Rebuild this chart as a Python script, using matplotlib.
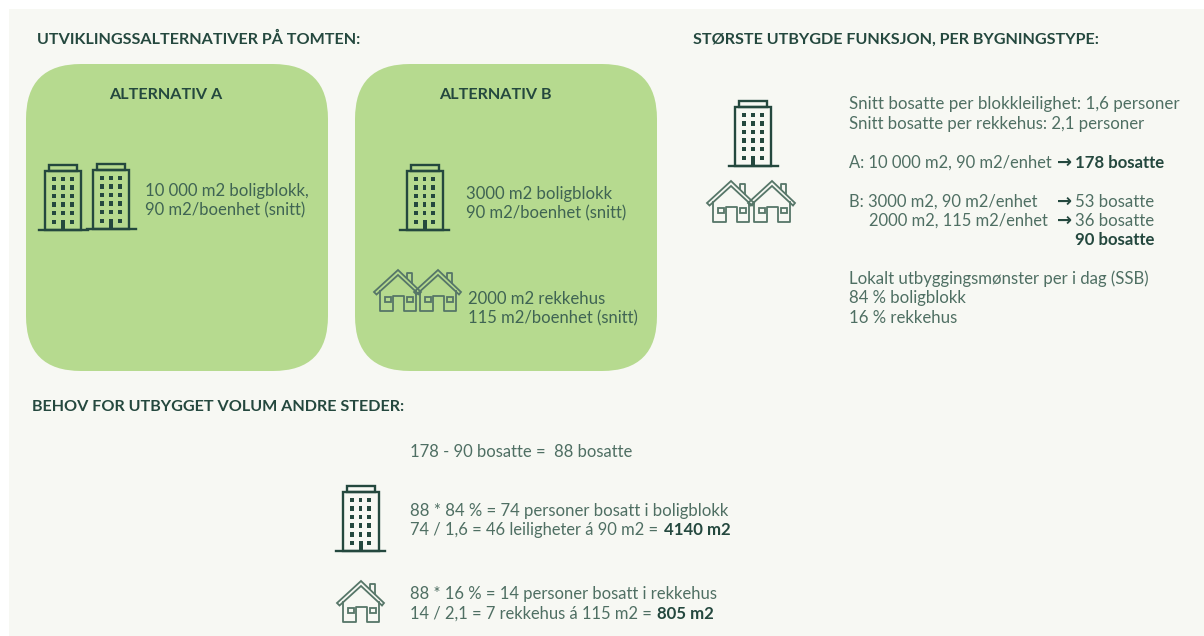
import matplotlib
matplotlib.use("Agg")
import matplotlib.pyplot as plt
from matplotlib.patches import FancyBboxPatch, Rectangle, Polygon

# Tekster
overskrifter = ["UTVIKLINGSSALTERNATIVER PÅ TOMTEN:", "STØRSTE UTBYGDE FUNKSJON, PER BYGNINGSTYPE:",
                "BEHOV FOR UTBYGGET VOLUM ANDRE STEDER:"]
alternativer = ["ALTERNATIV A", "ALTERNATIV B"]
tekst_a = ["10 000 m2 boligblokk,", "90 m2/boenhet (snitt)"]
tekst_b1 = ["3000 m2 boligblokk", "90 m2/boenhet (snitt)"]
tekst_b2 = ["2000 m2 rekkehus", "115 m2/boenhet (snitt)"]
snitt = ["Snitt bosatte per blokkleilighet: 1,6 personer", "Snitt bosatte per rekkehus: 2,1 personer"]
ssb = ["Lokalt utbyggingsmønster per i dag (SSB)", "84 % boligblokk", "16 % rekkehus"]

mork = "#24483e"
tekst = "#4f6f63"
tekst_gronn = "#3f6453"
hus_farge = "#567668"
bakgrunn = "#f7f8f3"
gronn = "#b6da8f"

plt.rcParams["font.family"] = ["Lato", "DejaVu Sans"]

fig = plt.figure(figsize=(12.04, 6.36), dpi=100, facecolor="white")
ax = fig.add_axes([0, 0, 1, 1])
ax.set_xlim(0, 1204)
ax.set_ylim(636, 0)
ax.axis("off")

ax.add_patch(Rectangle((9, 9), 1195, 627, fc=bakgrunn, ec="none"))
for x0 in (26, 355):
    ax.add_patch(FancyBboxPatch((x0 + 55, 64 + 55), 302 - 110, 307 - 110,
                                boxstyle="round,pad=55,rounding_size=55", fc=gronn, ec="none"))


def blokk(x, y):
    # x, y = midten av bunnlinjen
    lw = 1.7
    ax.plot([x - 24.5, x + 24.5], [y, y], color=mork, lw=lw)
    ax.add_patch(Rectangle((x - 18, y - 59), 36, 59, fc="none", ec=mork, lw=lw))
    ax.add_patch(Rectangle((x - 14, y - 65), 28, 6, fc="none", ec=mork, lw=lw))
    for rad in range(6):
        for kol in (-8.7, 0, 8.7):
            if rad == 5 and kol == 0:
                continue
            ax.add_patch(Rectangle((x + kol - 1.9, y - 53.5 + rad * 8.6), 3.8, 4.6, fc=mork, ec="none"))
    ax.add_patch(Rectangle((x - 2, y - 10), 4, 10, fc=mork, ec="none"))


def hus(x, y, farge=hus_farge):
    # x = midten av huset, y = bunnlinjen
    lw = 1.3
    ax.add_patch(Polygon([(x - 24, y - 19), (x, y - 41), (x + 23, y - 19), (x + 21, y - 16.5),
                          (x, y - 36), (x - 21.5, y - 16.5)], closed=True, fc="none", ec=farge, lw=lw))
    ax.plot([x - 18, x - 18, x - 5, x - 5, x + 6, x + 6, x + 17.5, x + 17.5],
            [y - 20, y, y, y - 15, y - 15, y, y, y - 20], color=farge, lw=lw)
    ax.plot([x + 9, x + 9, x + 14, x + 14], [y - 33, y - 38, y - 38, y - 28], color=farge, lw=lw)
    for wx in (x - 13.5, x + 8.5):
        ax.add_patch(Rectangle((wx, y - 14), 6, 5, fc="none", ec=farge, lw=lw))


def txt(x, y, s, vekt="normal", farge=tekst, size=12.1):
    return ax.text(x, y + 0.8, s, ha="left", va="center", fontsize=size, color=farge, fontweight=vekt)


def pil(x, y):
    ax.text(x, y + 0.5, "→", ha="left", va="center", fontsize=13, color=mork, fontweight="bold",
            family="DejaVu Sans")


# Overskrifter
txt(37, 39, overskrifter[0], "bold", mork, 11.6)
txt(693, 39, overskrifter[1], "bold", mork, 11.6)
txt(32, 406, overskrifter[2], "bold", mork, 11.6)
txt(109, 94, alternativer[0], "bold", mork, 11.6)
txt(439, 94, alternativer[1], "bold", mork, 11.6)

# Alternativ A og B
blokk(63, 230)
blokk(111, 229)
txt(145, 190, tekst_a[0], farge=tekst_gronn)
txt(145, 210, tekst_a[1], farge=tekst_gronn, size=12)
blokk(424.5, 230)
txt(466, 193, tekst_b1[0], farge=tekst_gronn)
txt(466, 213, tekst_b1[1], farge=tekst_gronn, size=12)
hus(398, 311)
hus(438, 311)
txt(468, 298, tekst_b2[0], farge=tekst_gronn)
txt(468, 318, tekst_b2[1], farge=tekst_gronn, size=12)

# Høyre kolonne
blokk(753, 166)
hus(731, 222)
hus(772, 222)
txt(849, 103, snitt[0], size=12.2)
txt(849, 123, snitt[1])
txt(849, 162, "A: 10 000 m2, 90 m2/enhet", size=11.9)
pil(1057, 162)
txt(1075, 162, "178 bosatte", "bold", mork)
txt(849, 201, "B: 3000 m2, 90 m2/enhet", size=11.9)
pil(1057, 201)
txt(1075, 201, "53 bosatte")
txt(869, 220, "2000 m2, 115 m2/enhet", size=11.9)
pil(1057, 220)
txt(1075, 220, "36 bosatte")
txt(1075, 239, "90 bosatte", "bold", mork)
txt(849, 278, ssb[0])
txt(849, 297, ssb[1])
txt(849, 317, ssb[2])

# Nederste del
txt(410, 451, "178 - 90 bosatte =  88 bosatte", size=12)
blokk(360.5, 551)
txt(410, 510, "88 * 84 % = 74 personer bosatt i boligblokk")
txt(410, 529, "74 / 1,6 = 46 leiligheter á 90 m2 = ", size=11.9)
txt(664, 529, "4140 m2", "bold", mork)
hus(361, 622)
txt(410, 593, "88 * 16 % = 14 personer bosatt i rekkehus", size=12)
txt(410, 613, "14 / 2,1 = 7 rekkehus á 115 m2 = ", size=11.9)
txt(657, 613, "805 m2", "bold", mork)

fig.savefig("out.png", dpi=100, facecolor="white")
